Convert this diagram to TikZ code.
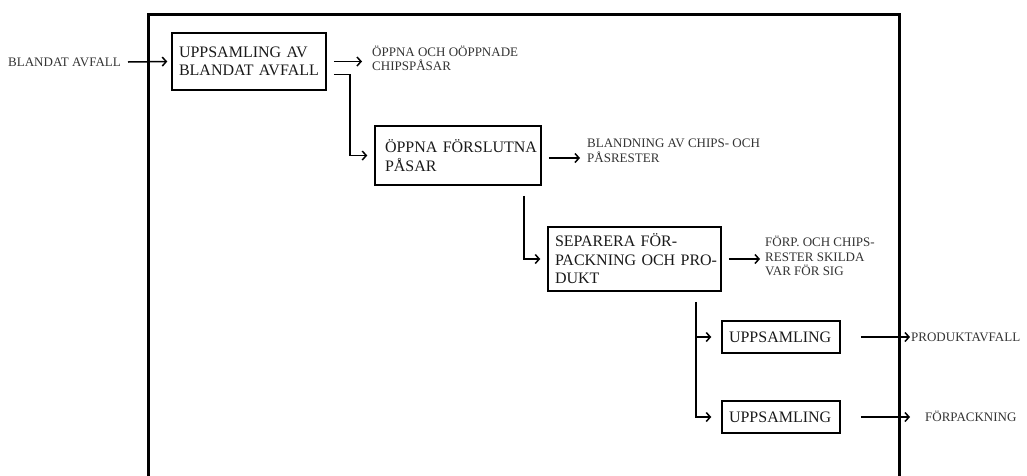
\documentclass[tikz,border=0pt]{standalone}
\usepackage{fontspec}
\setmainfont{Liberation Serif}
\usetikzlibrary{arrows.meta}
\begin{document}
\begin{tikzpicture}[x=1pt,y=-1pt,
  box/.style={draw,line width=1.5pt,inner xsep=7pt,inner ysep=0pt,align=left,font=\fontsize{16}{18.5}\selectfont,text=black!90},
  lbl/.style={inner sep=0pt,align=left,anchor=west,font=\fontsize{13}{14.5}\selectfont,text=black!80},
  arr/.style={line width=1.5pt,-{Straight Barb[length=4pt,width=9pt,line width=1.5pt]}},
  frame/.style={line width=3pt}]
\useasboundingbox (0,0) rectangle (1027,475);
\draw[frame] (148,476) -- (148,14) -- (899,14) -- (899,476);
\node[lbl,anchor=east] (in) at (121,62) {BLANDAT AVFALL};
\node[box,text width=140pt,minimum height=57pt] (b1) at (249,61.5) {\mbox{UPPSAMLING AV}\\\mbox{BLANDAT AVFALL}};
\node[lbl] (l1) at (372,58.5) {ÖPPNA OCH OÖPPNADE\\CHIPSPÅSAR};
\node[box,text width=152pt,minimum height=59pt] (b2) at (458,155.5) {\mbox{\hspace*{3pt}ÖPPNA FÖRSLUTNA}\\\mbox{\hspace*{3pt}PÅSAR}};
\node[lbl] (l2) at (587,151) {BLANDNING AV CHIPS- OCH\\PÅSRESTER};
\node[box,text width=159pt,minimum height=64pt] (b3) at (634.5,259) {\mbox{SEPARERA FÖR-}\\\mbox{PACKNING OCH PRO-}\\\mbox{DUKT}};
\node[lbl] (l3) at (765,256) {FÖRP. OCH CHIPS-\\RESTER SKILDA\\VAR FÖR SIG};
\node[box,text width=104pt,minimum height=32pt] (b4) at (781,337) {\mbox{UPPSAMLING}};
\node[box,text width=104pt,minimum height=32pt] (b5) at (781,417) {\mbox{UPPSAMLING}};
\node[lbl] (l4) at (911,337) {PRODUKTAVFALL};
\node[lbl] (l5) at (925,416) {FÖRPACKNING};
% connectors
\draw[arr] ([xshift=7pt]in.east) -- ([xshift=-4pt]b1.west);
\draw[arr] ([xshift=7pt]b1.east) -- ([xshift=-10pt]l1.west |- b1.east);
\draw[arr] ([xshift=7pt,yshift=-13pt]b1.east) -- ++(16,0) |- ([xshift=-7pt]b2.west);
\draw[arr] ([xshift=7pt,yshift=-2.5pt]b2.east) -- ([xshift=-7pt,yshift=-2.5pt]l2.west |- b2.east);
\coordinate (s2) at ([xshift=-18pt,yshift=-10pt]b2.south east);
\draw[arr] (s2) |- ([xshift=-7pt]b3.west);
\draw[arr] ([xshift=7pt]b3.east) -- ([xshift=-5pt]l3.west |- b3.east);
\coordinate (s3) at ([xshift=-26pt,yshift=-10pt]b3.south east);
\draw[arr] (s3) |- ([xshift=-10pt]b5.west);
\draw[arr] (s3 |- b4.west) -- ([xshift=-10pt]b4.west);
\draw[arr] ([xshift=20pt]b4.east) -- ([xshift=-1pt]l4.west |- b4.east);
\draw[arr] ([xshift=20pt]b5.east) -- ([xshift=-15pt]l5.west |- b5.east);
\end{tikzpicture}
\end{document}
